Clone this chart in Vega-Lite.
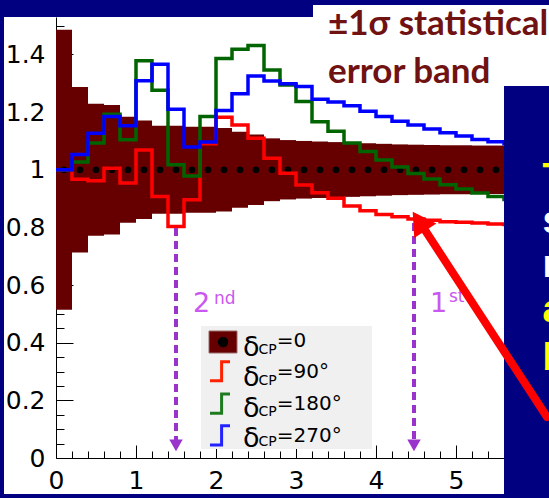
{
  "$schema": "https://vega.github.io/schema/vega-lite/v6.json",
  "width": 493,
  "height": 441,
  "autosize": {"type": "none"},
  "padding": {"left": 56, "top": 17, "right": 0, "bottom": 40},
  "background": "white",
  "config": {"view": {"stroke": null}},
  "datasets": {
    "bins": [
      {"x0": 0, "x1": 0.2, "xc": 0.1, "lo": 0.514, "hi": 1.486, "d0": 1},
      {"x0": 0.2, "x1": 0.4, "xc": 0.3, "lo": 0.713, "hi": 1.287, "d0": 1},
      {"x0": 0.4, "x1": 0.6, "xc": 0.5, "lo": 0.771, "hi": 1.229, "d0": 1},
      {"x0": 0.6, "x1": 0.8, "xc": 0.7, "lo": 0.775, "hi": 1.225, "d0": 1},
      {"x0": 0.8, "x1": 1.0, "xc": 0.9, "lo": 0.816, "hi": 1.184, "d0": 1},
      {"x0": 1.0, "x1": 1.2, "xc": 1.1, "lo": 0.829, "hi": 1.171, "d0": 1},
      {"x0": 1.2, "x1": 1.4, "xc": 1.3, "lo": 0.847, "hi": 1.153, "d0": 1},
      {"x0": 1.4, "x1": 1.6, "xc": 1.5, "lo": 0.847, "hi": 1.153, "d0": 1},
      {"x0": 1.6, "x1": 1.8, "xc": 1.7, "lo": 0.851, "hi": 1.149, "d0": 1},
      {"x0": 1.8, "x1": 2.0, "xc": 1.9, "lo": 0.851, "hi": 1.149, "d0": 1},
      {"x0": 2.0, "x1": 2.2, "xc": 2.1, "lo": 0.855, "hi": 1.145, "d0": 1},
      {"x0": 2.2, "x1": 2.4, "xc": 2.3, "lo": 0.868, "hi": 1.132, "d0": 1},
      {"x0": 2.4, "x1": 2.6, "xc": 2.5, "lo": 0.878, "hi": 1.122, "d0": 1},
      {"x0": 2.6, "x1": 2.8, "xc": 2.7, "lo": 0.891, "hi": 1.109, "d0": 1},
      {"x0": 2.8, "x1": 3.0, "xc": 2.9, "lo": 0.897, "hi": 1.103, "d0": 1},
      {"x0": 3.0, "x1": 3.2, "xc": 3.1, "lo": 0.900, "hi": 1.100, "d0": 1},
      {"x0": 3.2, "x1": 3.4, "xc": 3.3, "lo": 0.902, "hi": 1.098, "d0": 1},
      {"x0": 3.4, "x1": 3.6, "xc": 3.5, "lo": 0.904, "hi": 1.096, "d0": 1},
      {"x0": 3.6, "x1": 3.8, "xc": 3.7, "lo": 0.906, "hi": 1.094, "d0": 1},
      {"x0": 3.8, "x1": 4.0, "xc": 3.9, "lo": 0.908, "hi": 1.092, "d0": 1},
      {"x0": 4.0, "x1": 4.2, "xc": 4.1, "lo": 0.910, "hi": 1.090, "d0": 1},
      {"x0": 4.2, "x1": 4.4, "xc": 4.3, "lo": 0.912, "hi": 1.088, "d0": 1},
      {"x0": 4.4, "x1": 4.6, "xc": 4.5, "lo": 0.913, "hi": 1.087, "d0": 1},
      {"x0": 4.6, "x1": 4.8, "xc": 4.7, "lo": 0.914, "hi": 1.086, "d0": 1},
      {"x0": 4.8, "x1": 5.0, "xc": 4.9, "lo": 0.915, "hi": 1.085, "d0": 1},
      {"x0": 5.0, "x1": 5.2, "xc": 5.1, "lo": 0.915, "hi": 1.085, "d0": 1},
      {"x0": 5.2, "x1": 5.4, "xc": 5.3, "lo": 0.916, "hi": 1.084, "d0": 1},
      {"x0": 5.4, "x1": 5.6, "xc": 5.5, "lo": 0.916, "hi": 1.084, "d0": 1},
      {"x0": 5.6, "x1": 5.8, "xc": 5.7, "lo": 0.917, "hi": 1.083, "d0": 1},
      {"x0": 5.8, "x1": 6.0, "xc": 5.9, "lo": 0.917, "hi": 1.083, "d0": 1},
      {"x0": 6.0, "x1": 6.2, "xc": 6.1, "lo": 0.918, "hi": 1.082, "d0": 1}
    ],
    "steps": [
      {"x": 0, "d90": 1.000, "d180": 1.000, "d270": 1.000},
      {"x": 0.2, "d90": 0.967, "d180": 1.027, "d270": 1.053},
      {"x": 0.4, "d90": 0.962, "d180": 1.093, "d270": 1.127},
      {"x": 0.6, "d90": 1.005, "d180": 1.193, "d270": 1.185},
      {"x": 0.8, "d90": 0.954, "d180": 1.104, "d270": 1.153},
      {"x": 1.0, "d90": 1.069, "d180": 1.378, "d270": 1.309},
      {"x": 1.2, "d90": 0.907, "d180": 1.276, "d270": 1.366},
      {"x": 1.4, "d90": 0.803, "d180": 1.017, "d270": 1.210},
      {"x": 1.6, "d90": 0.896, "d180": 0.978, "d270": 1.079},
      {"x": 1.8, "d90": 1.090, "d180": 1.185, "d270": 1.096},
      {"x": 2.0, "d90": 1.182, "d180": 1.386, "d270": 1.206},
      {"x": 2.2, "d90": 1.155, "d180": 1.418, "d270": 1.264},
      {"x": 2.4, "d90": 1.109, "d180": 1.431, "d270": 1.325},
      {"x": 2.6, "d90": 1.040, "d180": 1.346, "d270": 1.308},
      {"x": 2.8, "d90": 0.988, "d180": 1.294, "d270": 1.298},
      {"x": 3.0, "d90": 0.947, "d180": 1.237, "d270": 1.289},
      {"x": 3.2, "d90": 0.920, "d180": 1.167, "d270": 1.245},
      {"x": 3.4, "d90": 0.901, "d180": 1.134, "d270": 1.235},
      {"x": 3.6, "d90": 0.874, "d180": 1.093, "d270": 1.222},
      {"x": 3.8, "d90": 0.858, "d180": 1.063, "d270": 1.203},
      {"x": 4.0, "d90": 0.845, "d180": 1.034, "d270": 1.185},
      {"x": 4.2, "d90": 0.837, "d180": 1.010, "d270": 1.168},
      {"x": 4.4, "d90": 0.829, "d180": 0.987, "d270": 1.155},
      {"x": 4.6, "d90": 0.825, "d180": 0.968, "d270": 1.141},
      {"x": 4.8, "d90": 0.820, "d180": 0.948, "d270": 1.128},
      {"x": 5.0, "d90": 0.818, "d180": 0.933, "d270": 1.117},
      {"x": 5.2, "d90": 0.815, "d180": 0.919, "d270": 1.105},
      {"x": 5.4, "d90": 0.812, "d180": 0.907, "d270": 1.097},
      {"x": 5.6, "d90": 0.810, "d180": 0.897, "d270": 1.090},
      {"x": 5.8, "d90": 0.808, "d180": 0.888, "d270": 1.085},
      {"x": 6.0, "d90": 0.806, "d180": 0.880, "d270": 1.080},
      {"x": 6.2, "d90": 0.806, "d180": 0.880, "d270": 1.080}
    ],
    "arrows": [
      {"x": 1.5, "top": 0.798, "bot": 0.06, "head": 0.044},
      {"x": 4.475, "top": 0.815, "bot": 0.06, "head": 0.044}
    ],
    "ordinals": [
      {"x": 1.7125, "y": 0.5065, "t": "2", "p": "n"},
      {"x": 1.975, "y": 0.533, "t": "nd", "p": "s"},
      {"x": 4.675, "y": 0.5065, "t": "1", "p": "n"},
      {"x": 4.9125, "y": 0.54, "t": "st", "p": "s"}
    ],
    "legendbox": [
      {"x0": 1.8125, "x1": 3.95, "y0": 0.0312, "y1": 0.458, "k": "bg"},
      {"x0": 1.9125, "x1": 2.2625, "y0": 0.3643, "y1": 0.4406, "k": "sq"}
    ],
    "legenddot": [{"x": 2.0875, "y": 0.4025}],
    "glyphs": [
      {"s": "d90", "x": 1.925, "y": 0.2682},
      {"s": "d90", "x": 2.07, "y": 0.3341},
      {"s": "d90", "x": 2.175, "y": 0.3341},
      {"s": "d180", "x": 1.925, "y": 0.1551},
      {"s": "d180", "x": 2.07, "y": 0.2220},
      {"s": "d180", "x": 2.175, "y": 0.2220},
      {"s": "d270", "x": 1.925, "y": 0.0451},
      {"s": "d270", "x": 2.07, "y": 0.1121},
      {"s": "d270", "x": 2.175, "y": 0.1121}
    ],
    "legendtext": [
      {"x": 2.3375, "y": 0.3539, "t": "δ", "p": "big"},
      {"x": 2.53, "y": 0.3598, "t": "CP", "p": "sub"},
      {"x": 2.76, "y": 0.3841, "t": "=0", "p": "eq"},
      {"x": 2.3375, "y": 0.2481, "t": "δ", "p": "big"},
      {"x": 2.53, "y": 0.2533, "t": "CP", "p": "sub"},
      {"x": 2.76, "y": 0.2765, "t": "=90°", "p": "eq"},
      {"x": 2.3375, "y": 0.1422, "t": "δ", "p": "big"},
      {"x": 2.53, "y": 0.1457, "t": "CP", "p": "sub"},
      {"x": 2.76, "y": 0.1665, "t": "=180°", "p": "eq"},
      {"x": 2.3375, "y": 0.0392, "t": "δ", "p": "big"},
      {"x": 2.53, "y": 0.0416, "t": "CP", "p": "sub"},
      {"x": 2.76, "y": 0.0566, "t": "=270°", "p": "eq"}
    ],
    "title": [
      {"x": 3.4, "y": 1.4675, "t": "±1σ statistical"},
      {"x": 3.4, "y": 1.301, "t": "error band"}
    ],
    "frame": [
      {"x0": -0.8, "x1": 3.2125, "y0": 1.53, "y1": 1.65},
      {"x0": 3.2, "x1": 6.3, "y0": 1.5716, "y1": 1.65},
      {"x0": -0.8, "x1": -0.65, "y0": -0.2, "y1": 1.65},
      {"x0": -0.8, "x1": 6.3, "y0": -0.2, "y1": -0.1249},
      {"x0": 5.6, "x1": 6.3, "y0": -0.2, "y1": 1.2906}
    ],
    "boxtext": [
      {"x": 6.08, "y": 0.9298, "t": "The", "c": "y"},
      {"x": 6.08, "y": 0.7806, "t": "shape", "c": "w"},
      {"x": 6.08, "y": 0.628, "t": "near", "c": "w"},
      {"x": 6.08, "y": 0.4718, "t": "at", "c": "y"},
      {"x": 6.08, "y": 0.3053, "t": "both", "c": "y"}
    ],
    "redarrow": [
      {"x": 6.1375, "y": 0.1422},
      {"x": 4.5625, "y": 0.8118}
    ],
    "redhead": [{"x": 4.5375, "y": 0.8215}]
  },
  "layer": [
    {
      "data": {"name": "bins"},
      "mark": {"type": "rect", "color": "#660000"},
      "encoding": {
        "x": {"field": "x0", "type": "quantitative", "title": null, "scale": {"domain": [0, 6.1625], "nice": false, "zero": false},
          "axis": {
            "values": [0,0.2,0.4,0.6,0.8,1,1.2,1.4,1.6,1.8,2,2.2,2.4,2.6,2.8,3,3.2,3.4,3.6,3.8,4,4.2,4.4,4.6,4.8,5,5.2,5.4,5.6,5.8,6],
            "tickCount": 200,
            "title": null, "grid": false,
            "domainColor": "black", "domainWidth": 1,
            "tickColor": "black", "tickWidth": 1, "tickSize": -13,
            "tickDash": {"condition": {"test": "abs(datum.value - round(datum.value)) < 0.001", "value": []}, "value": [7, 30]},
            "labelExpr": "abs(datum.value - round(datum.value)) < 0.001 ? format(datum.value, '~g') : ''",
            "labelFont": "DejaVu Sans", "labelFontSize": 25, "labelColor": "black",
            "labelPadding": 23, "labelFlush": false, "labelOverlap": false, "labelBound": false
          }},
        "x2": {"field": "x1"},
        "y": {"field": "lo", "type": "quantitative", "title": null, "scale": {"domain": [0, 1.53], "nice": false, "zero": false},
          "axis": {
            "values": [0,0.05,0.1,0.15,0.2,0.25,0.3,0.35,0.4,0.45,0.5,0.55,0.6,0.65,0.7,0.75,0.8,0.85,0.9,0.95,1,1.05,1.1,1.15,1.2,1.25,1.3,1.35,1.4,1.45,1.5],
            "tickCount": 200,
            "title": null, "grid": false,
            "domainColor": "black", "domainWidth": 1,
            "tickColor": "black", "tickWidth": 1, "tickSize": -17,
            "tickDash": {"condition": {"test": "abs(datum.value*5 - round(datum.value*5)) < 0.001", "value": []}, "value": [8, 30]},
            "labelExpr": "abs(datum.value*5 - round(datum.value*5)) < 0.001 ? format(datum.value, '~g') : ''",
            "labelFont": "DejaVu Sans", "labelFontSize": 25, "labelColor": "black",
            "labelPadding": 28, "labelFlush": false, "labelOverlap": false, "labelBound": false
          }},
        "y2": {"field": "hi"}
      }
    },
    {
      "data": {"name": "bins"},
      "mark": {"type": "point", "filled": true, "color": "black", "size": 45, "opacity": 1},
      "encoding": {
        "x": {"field": "xc", "type": "quantitative", "title": null, "scale": {"domain": [0, 6.1625], "nice": false, "zero": false}},
        "y": {"field": "d0", "type": "quantitative", "title": null, "scale": {"domain": [0, 1.53], "nice": false, "zero": false}}
      }
    },
    {
      "data": {"name": "steps"},
      "mark": {"type": "line", "interpolate": "step-after", "color": "#FF0000", "strokeWidth": 3.5},
      "encoding": {
        "x": {"field": "x", "type": "quantitative", "title": null, "scale": {"domain": [0, 6.1625], "nice": false, "zero": false}},
        "y": {"field": "d90", "type": "quantitative", "title": null, "scale": {"domain": [0, 1.53], "nice": false, "zero": false}}
      }
    },
    {
      "data": {"name": "steps"},
      "mark": {"type": "line", "interpolate": "step-after", "color": "#006400", "strokeWidth": 3.5},
      "encoding": {
        "x": {"field": "x", "type": "quantitative", "title": null, "scale": {"domain": [0, 6.1625], "nice": false, "zero": false}},
        "y": {"field": "d180", "type": "quantitative", "title": null, "scale": {"domain": [0, 1.53], "nice": false, "zero": false}}
      }
    },
    {
      "data": {"name": "steps"},
      "mark": {"type": "line", "interpolate": "step-after", "color": "#0000FF", "strokeWidth": 3.5},
      "encoding": {
        "x": {"field": "x", "type": "quantitative", "title": null, "scale": {"domain": [0, 6.1625], "nice": false, "zero": false}},
        "y": {"field": "d270", "type": "quantitative", "title": null, "scale": {"domain": [0, 1.53], "nice": false, "zero": false}}
      }
    },
    {
      "data": {"name": "arrows"},
      "mark": {"type": "rule", "color": "#9933CC", "strokeWidth": 4, "strokeDash": [8, 5]},
      "encoding": {
        "x": {"field": "x", "type": "quantitative", "title": null, "scale": {"domain": [0, 6.1625], "nice": false, "zero": false}},
        "y": {"field": "top", "type": "quantitative", "title": null, "scale": {"domain": [0, 1.53], "nice": false, "zero": false}},
        "y2": {"field": "bot"}
      }
    },
    {
      "data": {"name": "arrows"},
      "mark": {"type": "point", "shape": "triangle-down", "filled": true, "color": "#9933CC", "size": 180, "opacity": 1},
      "encoding": {
        "x": {"field": "x", "type": "quantitative", "title": null, "scale": {"domain": [0, 6.1625], "nice": false, "zero": false}},
        "y": {"field": "head", "type": "quantitative", "title": null, "scale": {"domain": [0, 1.53], "nice": false, "zero": false}}
      }
    },
    {
      "data": {"name": "ordinals"},
      "transform": [{"filter": "datum.p == 'n'"}],
      "mark": {"type": "text", "align": "left", "baseline": "alphabetic", "font": "DejaVu Sans", "fontSize": 27, "color": "#C957F0"},
      "encoding": {
        "x": {"field": "x", "type": "quantitative", "title": null, "scale": {"domain": [0, 6.1625], "nice": false, "zero": false}},
        "y": {"field": "y", "type": "quantitative", "title": null, "scale": {"domain": [0, 1.53], "nice": false, "zero": false}},
        "text": {"field": "t"}
      }
    },
    {
      "data": {"name": "ordinals"},
      "transform": [{"filter": "datum.p == 's'"}],
      "mark": {"type": "text", "align": "left", "baseline": "alphabetic", "font": "DejaVu Sans", "fontSize": 17, "color": "#C957F0"},
      "encoding": {
        "x": {"field": "x", "type": "quantitative", "title": null, "scale": {"domain": [0, 6.1625], "nice": false, "zero": false}},
        "y": {"field": "y", "type": "quantitative", "title": null, "scale": {"domain": [0, 1.53], "nice": false, "zero": false}},
        "text": {"field": "t"}
      }
    },
    {
      "data": {"name": "legendbox"},
      "transform": [{"filter": "datum.k == 'bg'"}],
      "mark": {"type": "rect", "color": "#F0F0F0"},
      "encoding": {
        "x": {"field": "x0", "type": "quantitative", "title": null, "scale": {"domain": [0, 6.1625], "nice": false, "zero": false}},
        "x2": {"field": "x1"},
        "y": {"field": "y0", "type": "quantitative", "title": null, "scale": {"domain": [0, 1.53], "nice": false, "zero": false}},
        "y2": {"field": "y1"}
      }
    },
    {
      "data": {"name": "legendbox"},
      "transform": [{"filter": "datum.k == 'sq'"}],
      "mark": {"type": "rect", "color": "#660000", "stroke": "#9A6A6A", "strokeWidth": 1},
      "encoding": {
        "x": {"field": "x0", "type": "quantitative", "title": null, "scale": {"domain": [0, 6.1625], "nice": false, "zero": false}},
        "x2": {"field": "x1"},
        "y": {"field": "y0", "type": "quantitative", "title": null, "scale": {"domain": [0, 1.53], "nice": false, "zero": false}},
        "y2": {"field": "y1"}
      }
    },
    {
      "data": {"name": "legenddot"},
      "mark": {"type": "point", "filled": true, "color": "black", "size": 110, "opacity": 1},
      "encoding": {
        "x": {"field": "x", "type": "quantitative", "title": null, "scale": {"domain": [0, 6.1625], "nice": false, "zero": false}},
        "y": {"field": "y", "type": "quantitative", "title": null, "scale": {"domain": [0, 1.53], "nice": false, "zero": false}}
      }
    },
    {
      "data": {"name": "glyphs"},
      "transform": [{"filter": "datum.s == 'd90'"}],
      "mark": {"type": "line", "interpolate": "step-after", "color": "#FF2200", "strokeWidth": 3},
      "encoding": {
        "x": {"field": "x", "type": "quantitative", "title": null, "scale": {"domain": [0, 6.1625], "nice": false, "zero": false}},
        "y": {"field": "y", "type": "quantitative", "title": null, "scale": {"domain": [0, 1.53], "nice": false, "zero": false}}
      }
    },
    {
      "data": {"name": "glyphs"},
      "transform": [{"filter": "datum.s == 'd180'"}],
      "mark": {"type": "line", "interpolate": "step-after", "color": "#1E7A1E", "strokeWidth": 3},
      "encoding": {
        "x": {"field": "x", "type": "quantitative", "title": null, "scale": {"domain": [0, 6.1625], "nice": false, "zero": false}},
        "y": {"field": "y", "type": "quantitative", "title": null, "scale": {"domain": [0, 1.53], "nice": false, "zero": false}}
      }
    },
    {
      "data": {"name": "glyphs"},
      "transform": [{"filter": "datum.s == 'd270'"}],
      "mark": {"type": "line", "interpolate": "step-after", "color": "#2222FF", "strokeWidth": 3},
      "encoding": {
        "x": {"field": "x", "type": "quantitative", "title": null, "scale": {"domain": [0, 6.1625], "nice": false, "zero": false}},
        "y": {"field": "y", "type": "quantitative", "title": null, "scale": {"domain": [0, 1.53], "nice": false, "zero": false}}
      }
    },
    {
      "data": {"name": "legendtext"},
      "transform": [{"filter": "datum.p == 'big'"}],
      "mark": {"type": "text", "align": "left", "baseline": "alphabetic", "font": "DejaVu Sans", "fontSize": 27, "color": "black"},
      "encoding": {
        "x": {"field": "x", "type": "quantitative", "title": null, "scale": {"domain": [0, 6.1625], "nice": false, "zero": false}},
        "y": {"field": "y", "type": "quantitative", "title": null, "scale": {"domain": [0, 1.53], "nice": false, "zero": false}},
        "text": {"field": "t"}
      }
    },
    {
      "data": {"name": "legendtext"},
      "transform": [{"filter": "datum.p == 'sub'"}],
      "mark": {"type": "text", "align": "left", "baseline": "alphabetic", "font": "DejaVu Sans", "fontSize": 14, "color": "black"},
      "encoding": {
        "x": {"field": "x", "type": "quantitative", "title": null, "scale": {"domain": [0, 6.1625], "nice": false, "zero": false}},
        "y": {"field": "y", "type": "quantitative", "title": null, "scale": {"domain": [0, 1.53], "nice": false, "zero": false}},
        "text": {"field": "t"}
      }
    },
    {
      "data": {"name": "legendtext"},
      "transform": [{"filter": "datum.p == 'eq'"}],
      "mark": {"type": "text", "align": "left", "baseline": "alphabetic", "font": "DejaVu Sans", "fontSize": 20, "color": "black"},
      "encoding": {
        "x": {"field": "x", "type": "quantitative", "title": null, "scale": {"domain": [0, 6.1625], "nice": false, "zero": false}},
        "y": {"field": "y", "type": "quantitative", "title": null, "scale": {"domain": [0, 1.53], "nice": false, "zero": false}},
        "text": {"field": "t"}
      }
    },
    {
      "data": {"name": "title"},
      "mark": {"type": "text", "align": "left", "baseline": "alphabetic", "font": "Lato", "fontWeight": "bold", "fontSize": 35, "color": "#701212"},
      "encoding": {
        "x": {"field": "x", "type": "quantitative", "title": null, "scale": {"domain": [0, 6.1625], "nice": false, "zero": false}},
        "y": {"field": "y", "type": "quantitative", "title": null, "scale": {"domain": [0, 1.53], "nice": false, "zero": false}},
        "text": {"field": "t"}
      }
    },
    {
      "data": {"name": "frame"},
      "mark": {"type": "rect", "color": "#000080"},
      "encoding": {
        "x": {"field": "x0", "type": "quantitative", "title": null, "scale": {"domain": [0, 6.1625], "nice": false, "zero": false}},
        "x2": {"field": "x1"},
        "y": {"field": "y0", "type": "quantitative", "title": null, "scale": {"domain": [0, 1.53], "nice": false, "zero": false}},
        "y2": {"field": "y1"}
      }
    },
    {
      "data": {"name": "boxtext"},
      "transform": [{"filter": "datum.c == 'y'"}],
      "mark": {"type": "text", "align": "left", "baseline": "alphabetic", "font": "Liberation Sans", "fontWeight": "bold", "fontSize": 38, "color": "#FFFF00"},
      "encoding": {
        "x": {"field": "x", "type": "quantitative", "title": null, "scale": {"domain": [0, 6.1625], "nice": false, "zero": false}},
        "y": {"field": "y", "type": "quantitative", "title": null, "scale": {"domain": [0, 1.53], "nice": false, "zero": false}},
        "text": {"field": "t"}
      }
    },
    {
      "data": {"name": "boxtext"},
      "transform": [{"filter": "datum.c == 'w'"}],
      "mark": {"type": "text", "align": "left", "baseline": "alphabetic", "font": "Liberation Sans", "fontWeight": "bold", "fontSize": 38, "color": "#FFFFFF"},
      "encoding": {
        "x": {"field": "x", "type": "quantitative", "title": null, "scale": {"domain": [0, 6.1625], "nice": false, "zero": false}},
        "y": {"field": "y", "type": "quantitative", "title": null, "scale": {"domain": [0, 1.53], "nice": false, "zero": false}},
        "text": {"field": "t"}
      }
    },
    {
      "data": {"name": "redarrow"},
      "mark": {"type": "line", "color": "#FF0000", "strokeWidth": 8, "strokeCap": "round"},
      "encoding": {
        "x": {"field": "x", "type": "quantitative", "title": null, "scale": {"domain": [0, 6.1625], "nice": false, "zero": false}},
        "y": {"field": "y", "type": "quantitative", "title": null, "scale": {"domain": [0, 1.53], "nice": false, "zero": false}}
      }
    },
    {
      "data": {"name": "redhead"},
      "mark": {"type": "point", "shape": "triangle-up", "filled": true, "color": "#FF0000", "size": 700, "angle": 326.6, "opacity": 1},
      "encoding": {
        "x": {"field": "x", "type": "quantitative", "title": null, "scale": {"domain": [0, 6.1625], "nice": false, "zero": false}},
        "y": {"field": "y", "type": "quantitative", "title": null, "scale": {"domain": [0, 1.53], "nice": false, "zero": false}}
      }
    }
  ]
}
